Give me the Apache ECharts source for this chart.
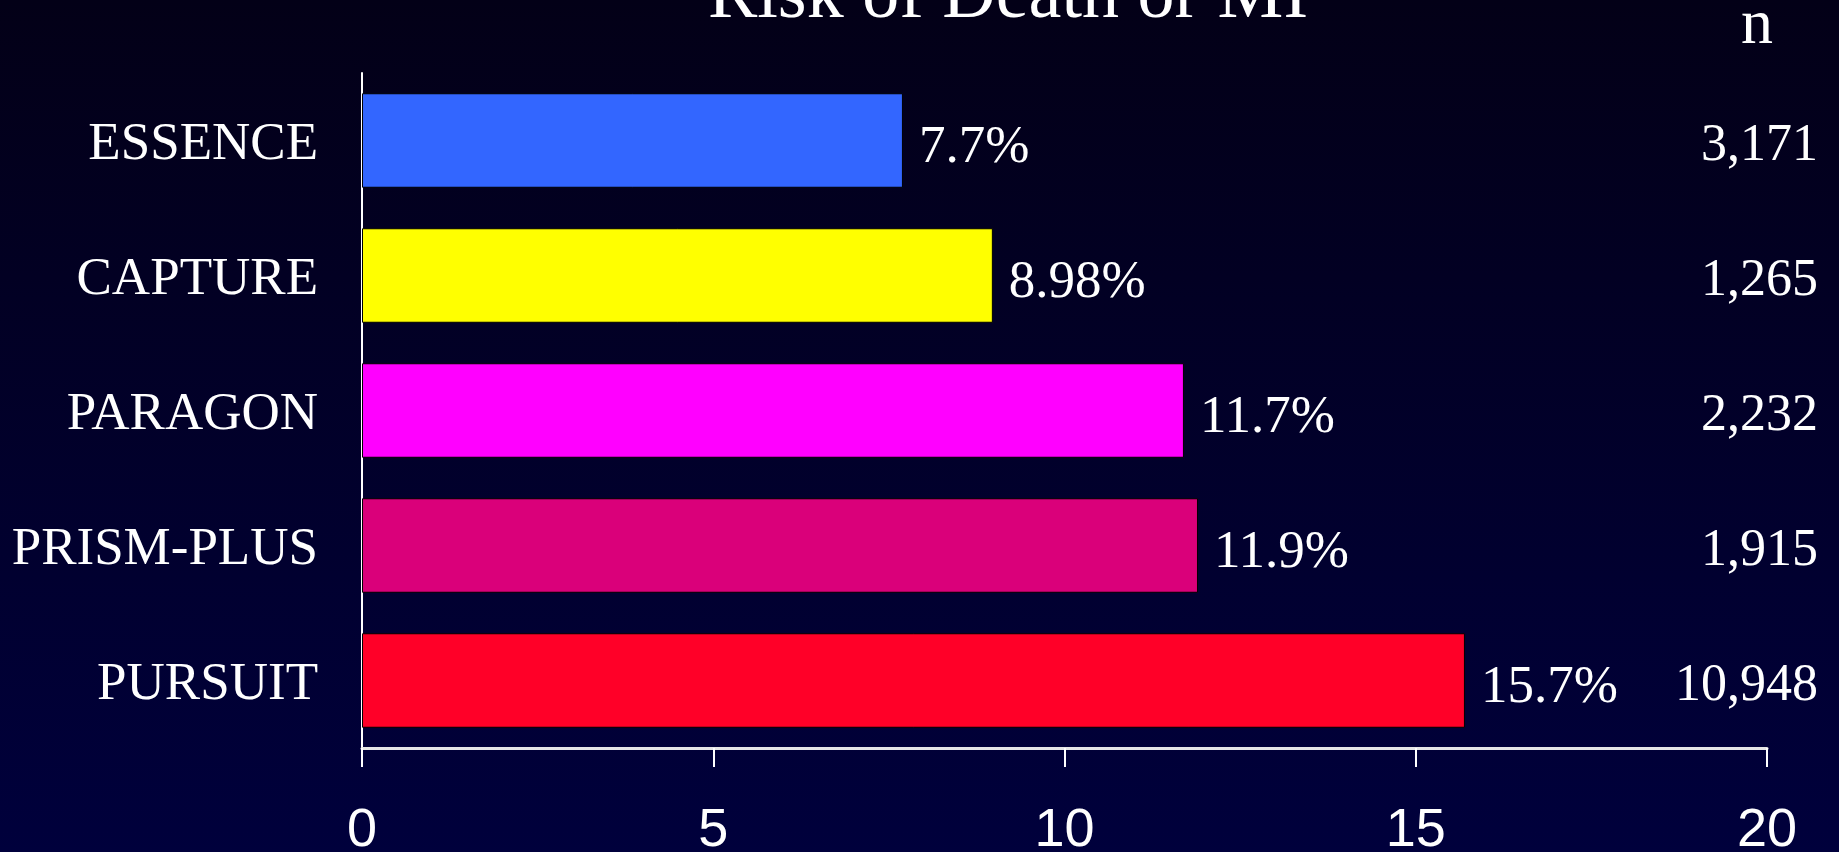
<!DOCTYPE html>
<html>
<head>
<meta charset="utf-8">
<title>Risk of Death or MI</title>
<script src="https://cdn.jsdelivr.net/npm/echarts@6/dist/echarts.min.js"></script>
<style>
  html, body { margin: 0; padding: 0; }
  #chart { width: 1839px; height: 852px; }
</style>
</head>
<body>
<div id="chart"></div>
<script>
// Data (top to bottom)
const trials = ["ESSENCE", "CAPTURE", "PARAGON", "PRISM-PLUS", "PURSUIT"];
const riskPct = [7.7, 8.98, 11.7, 11.9, 15.7];
const patientsN = ["3,171", "1,265", "2,232", "1,915", "10,948"];
const xTicks = [0, 5, 10, 15, 20];

const barColors = ["#3366FF", "#FFFF00", "#FF00FF", "#DA007A", "#FF0028"];
const serif = "'Liberation Serif', 'Times New Roman', serif";
const sans = "'Liberation Sans', Arial, sans-serif";

const chart = echarts.init(document.getElementById("chart"));

const option = {
  animation: false,
  backgroundColor: {
    type: "linear",
    x: 0, y: 0, x2: 0, y2: 1,
    colorStops: [
      { offset: 0, color: "#030017" },
      { offset: 1, color: "#00003C" },
    ],
  },
  title: [
    {
      text: "Risk of Death or MI",
      left: 1003,
      top: -44,
      textAlign: "center",
      textStyle: {
        color: "#ffffff",
        fontFamily: serif,
        fontSize: 74,
        fontWeight: "normal",
        lineHeight: 74,
      },
    },
    {
      text: "n",
      left: 1752,
      top: -11,
      textAlign: "center",
      textStyle: {
        color: "#ffffff",
        fontFamily: serif,
        fontSize: 64,
        fontWeight: "normal",
        lineHeight: 64,
      },
    },
  ],
  grid: {
    left: 362,
    right: 72,
    top: 73,
    bottom: 104,
    containLabel: false,
    outerBoundsMode: "none",
  },
  xAxis: {
    type: "value",
    min: xTicks[0],
    max: xTicks[xTicks.length - 1],
    interval: 5,
    splitLine: { show: false },
    axisLine: { show: true, lineStyle: { color: "#e6e6e6", width: 3 } },
    axisTick: { show: true, length: 19, lineStyle: { color: "#ffffff", width: 2 } },
    axisLabel: {
      color: "#ffffff",
      fontFamily: sans,
      fontSize: 54,
      margin: 56,
    },
  },
  yAxis: [
    {
      type: "category",
      data: trials,
      inverse: true,
      axisLine: { show: true, lineStyle: { color: "#ffffff", width: 2 } },
      axisTick: { show: false },
      axisLabel: {
        color: "#ffffff",
        fontFamily: serif,
        fontSize: 53,
        margin: 44,
        verticalAlign: "top",
        lineHeight: 10,
      },
    },
    {
      type: "category",
      data: patientsN,
      inverse: true,
      position: "right",
      axisLine: { show: false },
      axisTick: { show: false },
      axisLabel: {
        color: "#ffffff",
        fontFamily: serif,
        fontSize: 52,
        align: "right",
        margin: 51,
        verticalAlign: "top",
        lineHeight: 12,
      },
    },
  ],
  series: [
    {
      type: "bar",
      data: riskPct,
      barWidth: "70%",
      itemStyle: {
        color: (p) => barColors[p.dataIndex],
        borderColor: "#000000",
        borderWidth: 1,
      },
      label: {
        show: true,
        position: "right",
        distance: 16,
        offset: [0, 8],
        color: "#ffffff",
        fontFamily: serif,
        fontSize: 53,
        formatter: (p) => p.value + "%",
      },
    },
  ],
};

chart.setOption(option);
</script>
</body>
</html>
